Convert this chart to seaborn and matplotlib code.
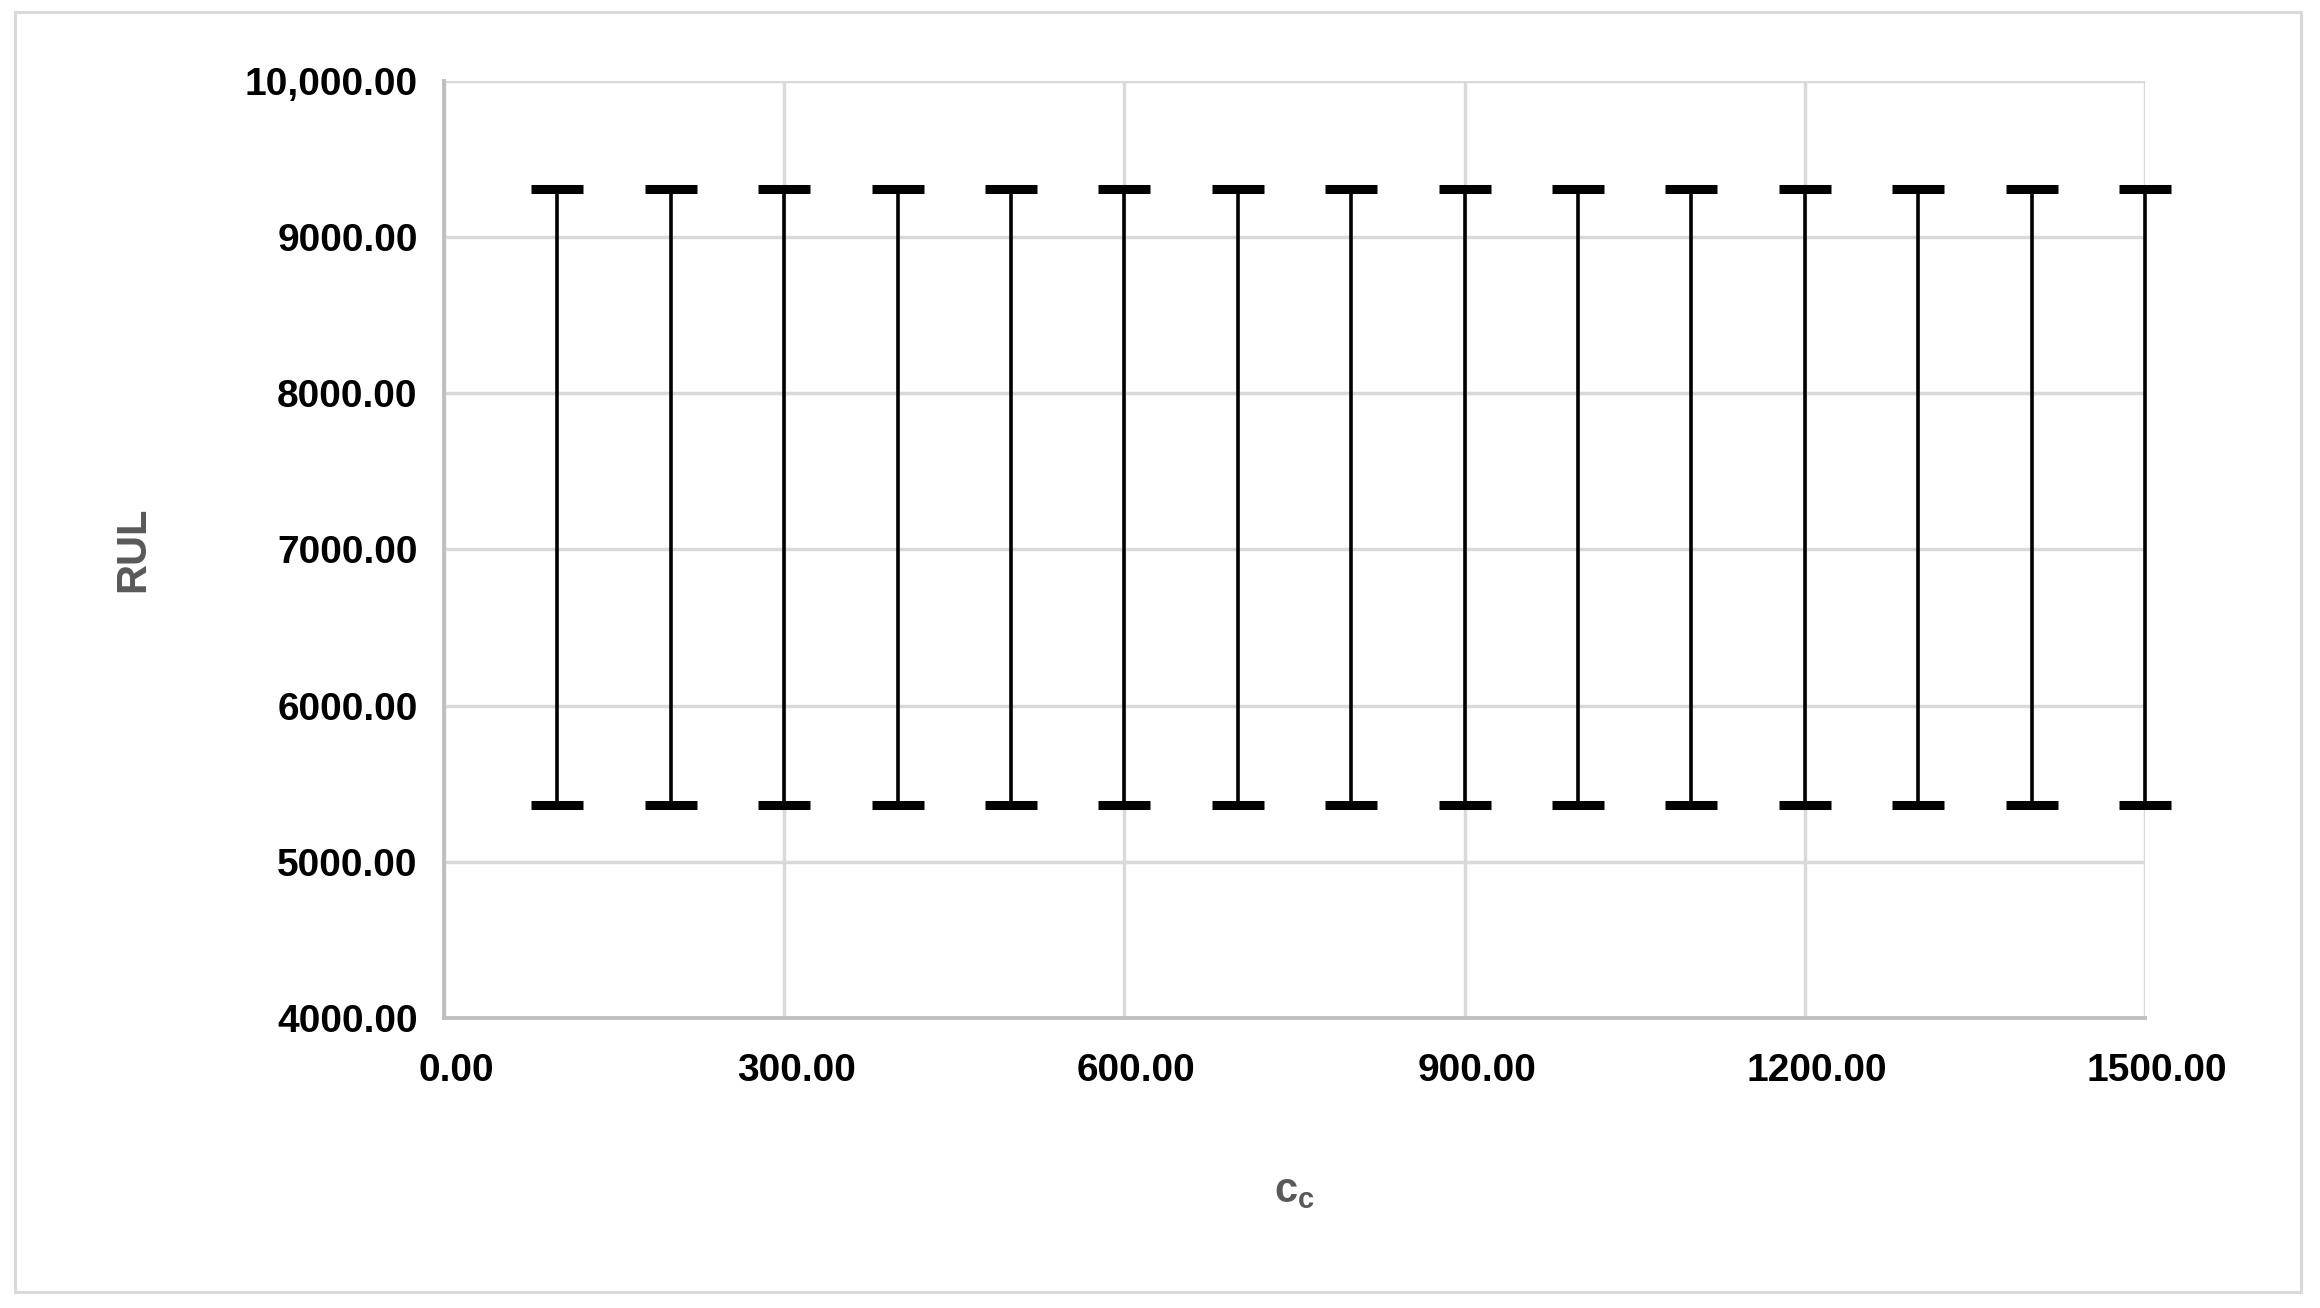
import seaborn as sns
import pandas as pd
import matplotlib.pyplot as plt
from matplotlib.patches import Rectangle
from matplotlib.transforms import ScaledTranslation

# cc values and the min / max RUL
cc = [100, 200, 300, 400, 500, 600, 700, 800, 900, 1000, 1100, 1200, 1300, 1400, 1500]
rul_low = [5365, 5365, 5365, 5365, 5365, 5365, 5365, 5365, 5365, 5365, 5365, 5365, 5365, 5365, 5365]
rul_high = [9310, 9310, 9310, 9310, 9310, 9310, 9310, 9310, 9310, 9310, 9310, 9310, 9310, 9310, 9310]

x_ticks = [0, 300, 600, 900, 1200, 1500]
x_tick_labels = ['0.00', '300.00', '600.00', '900.00', '1200.00', '1500.00']
y_ticks = [4000, 5000, 6000, 7000, 8000, 9000, 10000]
y_tick_labels = ['4000.00', '5000.00', '6000.00', '7000.00', '8000.00', '9000.00', '10,000.00']

sns.set_theme(style='whitegrid')
plt.rcParams['font.family'] = ['Liberation Sans', 'DejaVu Sans']
plt.rcParams['mathtext.fontset'] = 'custom'
plt.rcParams['mathtext.bf'] = 'Liberation Sans:bold'
plt.rcParams['mathtext.rm'] = 'Liberation Sans'

df = pd.DataFrame({'cc': cc + cc, 'rul': rul_low + rul_high})

fig = plt.figure(figsize=(23.2, 13.08), dpi=100)
ax = fig.add_axes([0.1914, 0.2217, 0.7332, 0.7164])

# vertical ranges
sns.lineplot(data=df, x='cc', y='rul', units='cc', estimator=None, color='black',
             linewidth=2.6, legend=False, ax=ax, clip_on=False, zorder=3)
# caps
sns.scatterplot(data=df, x='cc', y='rul', marker='_', s=1369, color='black',
                linewidth=6.5, legend=False, ax=ax, clip_on=False, zorder=4)

ax.set_xlim(0, 1500)
ax.set_ylim(4000, 10000)
ax.set_xticks(x_ticks)
ax.set_xticklabels(x_tick_labels)
ax.set_yticks(y_ticks)
ax.set_yticklabels(y_tick_labels)
ax.tick_params(axis='x', length=0, pad=25, labelsize=28, labelcolor='black')
ax.tick_params(axis='y', length=0, pad=19, labelsize=28, labelcolor='black')
shift = ScaledTranslation(0.12, 0, fig.dpi_scale_trans)
for lab in ax.get_xticklabels():
    lab.set_fontweight('bold')
    lab.set_transform(lab.get_transform() + shift)
for lab in ax.get_yticklabels():
    lab.set_fontweight('bold')

ax.grid(True, color='#d9d9d9', linewidth=2.5)
ax.set_axisbelow(True)
for side in ['top', 'right']:
    ax.spines[side].set_visible(False)
for side in ['left', 'bottom']:
    ax.spines[side].set_color('#bfbfbf')
    ax.spines[side].set_linewidth(2.8)
    ax.spines[side].set_zorder(2)

ax.set_ylabel('RUL', fontsize=30, fontweight='bold', color='#595959')
ax.yaxis.set_label_coords(-0.183, 0.5)
ax.yaxis.label.set_va('center')
ax.set_xlabel(r'$\mathbf{c_c}$', fontsize=30, color='#595959')
ax.xaxis.set_label_coords(0.5, -0.185)
ax.xaxis.label.set_va('center')

# light frame around the whole chart
fig.patches.append(Rectangle((0.0065, 0.0122), 0.9853, 0.9786, transform=fig.transFigure,
                             fill=False, edgecolor='#d9d9d9', linewidth=2.2))

fig.savefig('out.png', dpi=100, facecolor='white')
